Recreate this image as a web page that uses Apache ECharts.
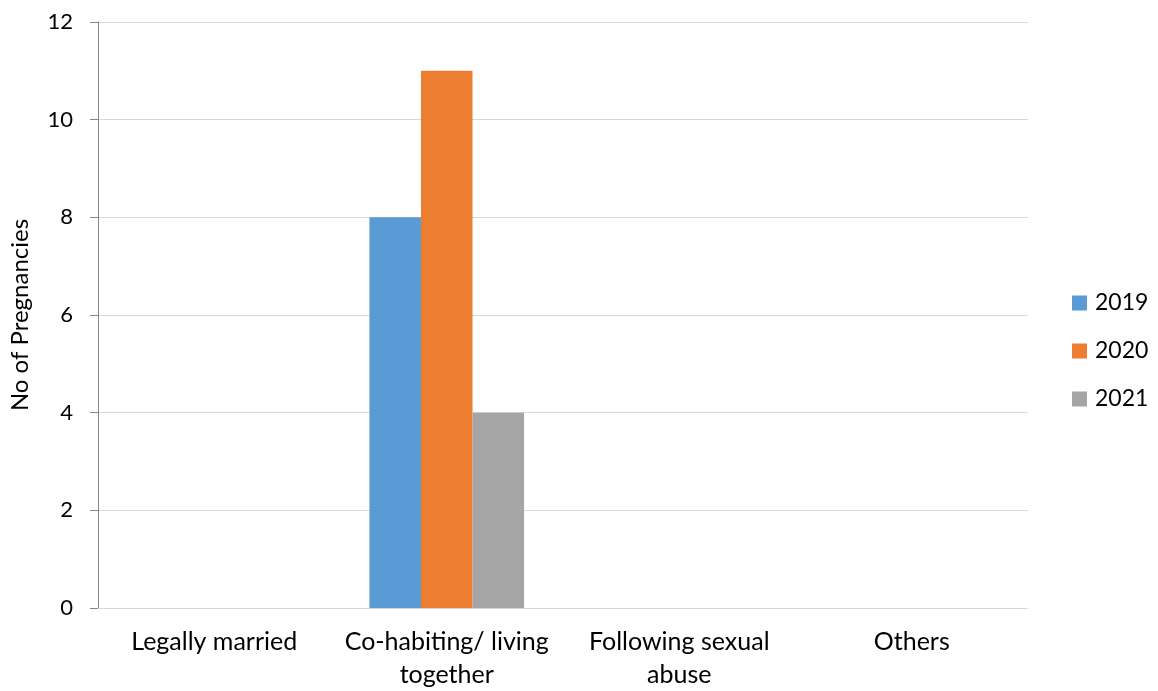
<!DOCTYPE html>
<html>
<head>
<meta charset="utf-8">
<script src="https://cdn.jsdelivr.net/npm/echarts@6/dist/echarts.min.js"></script>
<style>html,body{margin:0;padding:0;background:#fff;}#c{width:1158px;height:691px;}</style>
</head>
<body>
<div id="c"></div>
<script>
const categories = ['Legally married', 'Co-habiting/ living\ntogether', 'Following sexual\nabuse', 'Others'];
const seriesNames = ['2019', '2020', '2021'];
const values2019 = [0, 8, 0, 0];
const values2020 = [0, 11, 0, 0];
const values2021 = [0, 4, 0, 0];
const colors = ['#5b9bd5', '#ed7d31', '#a5a5a5'];
const FONT = 'Lato';

const chart = echarts.init(document.getElementById('c'), null, {renderer: 'canvas'});
const dataSets = [values2019, values2020, values2021];
chart.setOption({
  animation: false,
  textStyle: {fontFamily: FONT},
  grid: {left: 96, width: 932, top: 22, height: 589, containLabel: false},
  legend: {
    orient: 'vertical',
    left: 1072, top: 291.5,
    padding: 0,
    itemWidth: 15, itemHeight: 15, itemGap: 25,
    icon: 'rect',
    textStyle: {fontFamily: FONT, fontSize: 23, color: '#000', padding: [0, 0, 0, 3]},
    data: seriesNames
  },
  xAxis: {
    type: 'category',
    data: categories,
    axisLine: {lineStyle: {color: '#d9d9d9', width: 1}},
    axisTick: {show: false},
    axisLabel: {fontFamily: FONT, fontSize: 25, color: '#000', margin: 17, lineHeight: 33, interval: 0}
  },
  yAxis: {
    type: 'value',
    min: 0, max: 12, interval: 2,
    name: 'No of Pregnancies',
    nameLocation: 'middle',
    nameGap: 66,
    nameTextStyle: {fontFamily: FONT, fontSize: 24, color: '#000'},
    axisLine: {show: true, lineStyle: {color: '#868686'}},
    axisTick: {show: true, length: 8, lineStyle: {color: '#868686'}},
    axisLabel: {fontFamily: FONT, fontSize: 22, color: '#000', margin: 25},
    splitLine: {lineStyle: {color: '#d9d9d9', width: 1}}
  },
  series: dataSets.map((d, i) => ({
    name: seriesNames[i],
    type: 'bar',
    data: d,
    itemStyle: {color: colors[i]},
    barGap: '0%',
    barCategoryGap: '33.5%'
  }))
});
</script>
</body>
</html>
